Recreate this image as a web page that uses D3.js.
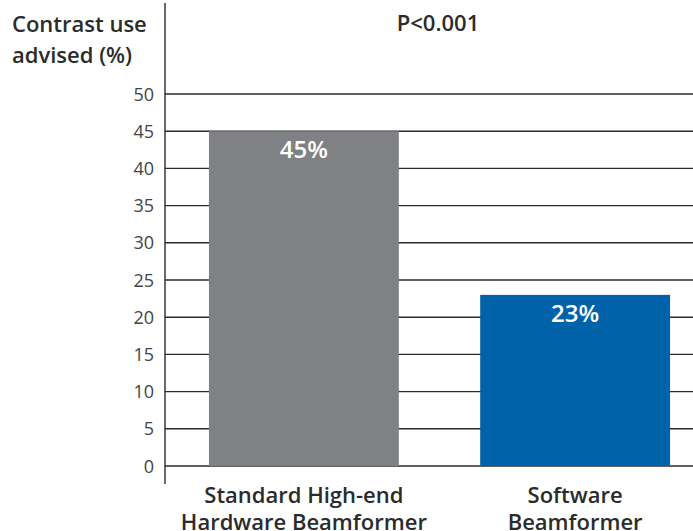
<!DOCTYPE html>
<html>
  <meta charset="utf-8" />
  <head>
    <script src="https://d3js.org/d3.v7.min.js"></script>
    <style>
      body {
        margin: 0;
        background: #fff;
      }
      text {
        font-family: "Open Sans", sans-serif;
      }
    </style>
  </head>
  <body>
    <svg id="chart" width="693" height="531"></svg>
    <script>
      const categories = ["Standard High-end|Hardware Beamformer", "Software|Beamformer"];
      const values = [45, 23];
      const barColors = ["#808184", "#0062a8"];
      const yTicks = [0, 5, 10, 15, 20, 25, 30, 35, 40, 45, 50];

      const svg = d3.select("#chart");
      const axisX = 165;

      const yScale = d3.scaleLinear().domain([0, 50]).range([466, 94]);
      const xScale = d3
        .scaleBand()
        .domain(categories)
        .range([165, 714])
        .paddingInner(0.3)
        .paddingOuter(0.162);

      // gridlines
      svg
        .selectAll(".grid")
        .data(yTicks)
        .enter()
        .append("line")
        .attr("x1", axisX)
        .attr("x2", 693)
        .attr("y1", (d) => yScale(d))
        .attr("y2", (d) => yScale(d))
        .attr("stroke", "#2b2b2b")
        .attr("stroke-width", 1.4);

      // tick labels
      svg
        .selectAll(".tick")
        .data(yTicks)
        .enter()
        .append("text")
        .attr("x", 154)
        .attr("y", (d) => yScale(d) + 6.5)
        .attr("text-anchor", "end")
        .attr("font-size", 18)
        .attr("fill", "#444")
        .text((d) => d);

      // bars
      svg
        .selectAll(".bar")
        .data(values)
        .enter()
        .append("rect")
        .attr("x", (d, i) => xScale(categories[i]))
        .attr("y", (d) => yScale(d))
        .attr("width", xScale.bandwidth())
        .attr("height", (d) => yScale(0) - yScale(d))
        .attr("fill", (d, i) => barColors[i]);

      // bar labels
      svg
        .selectAll(".val")
        .data(values)
        .enter()
        .append("text")
        .attr("x", (d, i) => xScale(categories[i]) + xScale.bandwidth() / 2)
        .attr("y", (d) => yScale(d) + 27)
        .attr("text-anchor", "middle")
        .attr("font-size", 24)
        .attr("font-weight", 600)
        .attr("fill", "#fff")
        .text((d) => d + "%");

      // y axis line
      svg
        .append("line")
        .attr("x1", axisX)
        .attr("x2", axisX)
        .attr("y1", 3)
        .attr("y2", 484)
        .attr("stroke", "#2b2b2b")
        .attr("stroke-width", 1.4);

      // category labels (second line runs off the bottom, as in the original)
      categories.forEach((c, i) => {
        const t = svg
          .append("text")
          .attr("x", xScale(c) + xScale.bandwidth() / 2)
          .attr("text-anchor", "middle")
          .attr("font-size", 22)
          .attr("font-weight", 600)
          .attr("fill", "#2b2b2b");
        c.split("|").forEach((line, j) => {
          t.append("tspan")
            .attr("x", xScale(c) + xScale.bandwidth() / 2)
            .attr("y", 503 + j * 27)
            .text(line);
        });
      });

      // y axis title
      ["Contrast use", "advised (%)"].forEach((line, j) => {
        svg
          .append("text")
          .attr("x", 12)
          .attr("y", 32 + j * 31)
          .attr("font-size", 22)
          .attr("font-weight", 600)
          .attr("fill", "#2b2b2b")
          .text(line);
      });

      svg
        .append("text")
        .attr("x", 438)
        .attr("y", 31)
        .attr("text-anchor", "middle")
        .attr("font-size", 22)
        .attr("font-weight", 600)
        .attr("fill", "#2b2b2b")
        .text("P<0.001");
    </script>
  </body>
</html>
